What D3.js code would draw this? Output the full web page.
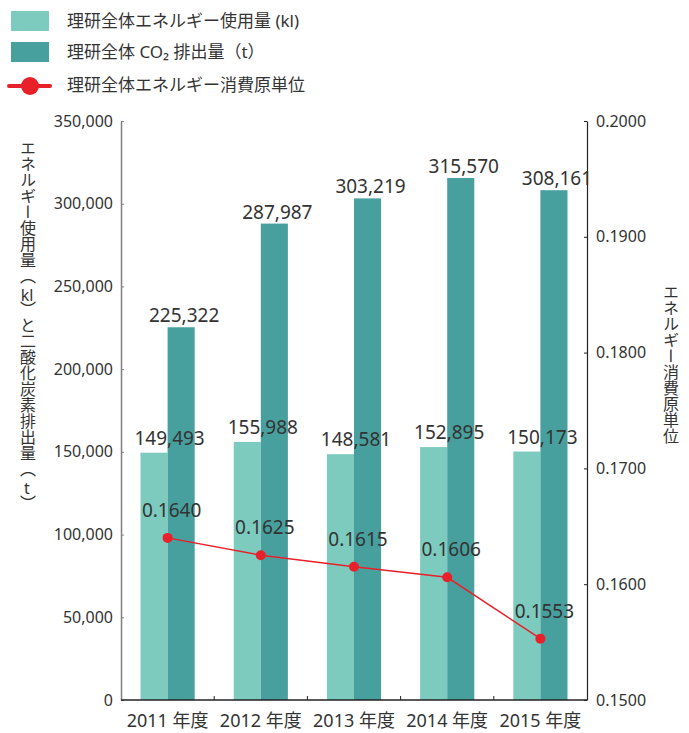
<!DOCTYPE html>
<html>
<head>
<meta charset="utf-8">
<script src="https://cdn.jsdelivr.net/npm/d3@7"></script>
<style>
  html, body { margin: 0; padding: 0; background: #fff; }
  svg { display: block; }
  text { font-family: "Noto Sans", "Noto Sans CJK JP", sans-serif; fill: #333; }
</style>
</head>
<body>
<svg id="chart" width="689" height="733"></svg>
<script>
// ---- data ----
const categories = ["2011 年度", "2012 年度", "2013 年度", "2014 年度", "2015 年度"];
const energyUse = [149493, 155988, 148581, 152895, 150173];
const co2Emission = [225322, 287987, 303219, 315570, 308161];
const energyIntensity = [0.1640, 0.1625, 0.1615, 0.1606, 0.1553];
const leftTicks = [0, 50000, 100000, 150000, 200000, 250000, 300000, 350000];
const rightTicks = [0.15, 0.16, 0.17, 0.18, 0.19, 0.20];
const seriesNames = ["energy", "co2"];
const legendLabels = ["理研全体エネルギー使用量 (kl)", "理研全体 CO₂ 排出量（t）", "理研全体エネルギー消費原単位"];
const leftTitleParts = ["エネルギー使用量（", "kl", "）と二酸化炭素排出量（", "t", "）"];
const rightTitle = "エネルギー消費原単位";

const C_LIGHT = "#7dcbbe", C_DARK = "#48a09e", C_RED = "#e8202a";

const svg = d3.select("#chart");
const L = 121, R = 587, T = 121, B = 700;

const x0 = d3.scaleBand().domain(categories).range([L, R]).padding(0);
const x1 = d3.scaleBand().domain(seriesNames).range([0, x0.bandwidth()]).paddingInner(0).paddingOuter(0.72);
const yL = d3.scaleLinear().domain([0, 350000]).range([B, T]);
const yR = d3.scaleLinear().domain([0.15, 0.20]).range([B, T]);

// bars
const groups = svg.append("g").selectAll("g").data(categories).join("g")
  .attr("transform", d => `translate(${x0(d)},0)`);
groups.append("rect")
  .attr("x", x1("energy")).attr("width", x1.bandwidth())
  .attr("y", (d, i) => yL(energyUse[i])).attr("height", (d, i) => B - yL(energyUse[i]))
  .attr("fill", C_LIGHT);
groups.append("rect")
  .attr("x", x1("co2")).attr("width", x1.bandwidth())
  .attr("y", (d, i) => yL(co2Emission[i])).attr("height", (d, i) => B - yL(co2Emission[i]))
  .attr("fill", C_DARK);

// left axis
const axL = svg.append("g").attr("transform", `translate(${L},0)`)
  .call(d3.axisLeft(yL).tickValues(leftTicks).tickFormat(d3.format(",")).tickSize(-3).tickPadding(8).tickSizeOuter(0));
axL.select(".domain").attr("stroke", "#808080").attr("stroke-width", 1.5);
axL.selectAll(".tick line").attr("stroke", "#808080");
axL.selectAll(".tick text").attr("font-size", 16).attr("fill", "#333")
  .style("font-family", '"Noto Sans", "Noto Sans CJK JP", sans-serif');

// right axis
const axR = svg.append("g").attr("transform", `translate(${R},0)`)
  .call(d3.axisRight(yR).tickValues(rightTicks).tickFormat(d3.format(".4f")).tickSize(-3).tickPadding(9).tickSizeOuter(0));
axR.select(".domain").attr("stroke", "#222").attr("stroke-width", 1.2);
axR.selectAll(".tick line").attr("stroke", "#222");
axR.selectAll(".tick text").attr("font-size", 16).attr("fill", "#333")
  .style("font-family", '"Noto Sans", "Noto Sans CJK JP", sans-serif');

// bottom axis
svg.append("line").attr("x1", L).attr("x2", R).attr("y1", B).attr("y2", B)
  .attr("stroke", "#222").attr("stroke-width", 1.5);
svg.append("g").selectAll("line").data(categories.slice(1)).join("line")
  .attr("x1", d => x0(d)).attr("x2", d => x0(d)).attr("y1", B).attr("y2", B - 4)
  .attr("stroke", "#222");
svg.append("g").selectAll("text").data(categories).join("text")
  .attr("x", d => x0(d) + x0.bandwidth() / 2).attr("y", 727)
  .attr("text-anchor", "middle").attr("font-size", 18).text(d => d);

// bar value labels
const fmt = d3.format(",");
svg.append("g").selectAll("text").data(categories).join("text")
  .attr("x", d => x0(d) + x0.bandwidth() / 2 + 2)
  .attr("y", (d, i) => yL(energyUse[i]) - 8)
  .attr("text-anchor", "middle").attr("font-size", 19).text((d, i) => fmt(energyUse[i]));
svg.append("g").selectAll("text").data(categories).join("text")
  .attr("x", d => x0(d) + x1("co2") + x1.bandwidth() / 2 + 3)
  .attr("y", (d, i) => yL(co2Emission[i]) - 5)
  .attr("text-anchor", "middle").attr("font-size", 19).text((d, i) => fmt(co2Emission[i]));

// line
const cx = d => x0(d) + x0.bandwidth() / 2;
const line = d3.line().x((d, i) => cx(categories[i])).y(d => yR(d));
svg.append("path").datum(energyIntensity).attr("d", line)
  .attr("fill", "none").attr("stroke", C_RED).attr("stroke-width", 1.5);
svg.append("g").selectAll("circle").data(energyIntensity).join("circle")
  .attr("cx", (d, i) => cx(categories[i])).attr("cy", d => yR(d)).attr("r", 5)
  .attr("fill", C_RED);
svg.append("g").selectAll("text").data(energyIntensity).join("text")
  .attr("x", (d, i) => cx(categories[i]) + 4).attr("y", d => yR(d) - 21)
  .attr("text-anchor", "middle").attr("font-size", 19).text(d => d3.format(".4f")(d));

// legend
const lg = svg.append("g");
lg.append("rect").attr("x", 11).attr("y", 11).attr("width", 38).attr("height", 20).attr("fill", C_LIGHT);
lg.append("rect").attr("x", 11).attr("y", 42).attr("width", 38).attr("height", 20).attr("fill", C_DARK);
lg.append("line").attr("x1", 9).attr("x2", 50).attr("y1", 86).attr("y2", 86)
  .attr("stroke", C_RED).attr("stroke-width", 4).attr("stroke-linecap", "round");
lg.append("circle").attr("cx", 30).attr("cy", 86).attr("r", 9).attr("fill", C_RED);
lg.selectAll("text.lg").data(legendLabels).join("text").attr("class", "lg")
  .attr("x", 67).attr("y", (d, i) => [21, 52, 85][i]).attr("dy", "0.35em")
  .attr("font-size", 17).text(d => d);

// vertical titles
function verticalTitle(parts, xc, yStart, size) {
  const g = svg.append("g");
  let y = yStart;
  parts.forEach(p => {
    const isLatin = /^[A-Za-z]+$/.test(p);
    if (isLatin) {
      const t = g.append("text").attr("x", xc).attr("y", y).attr("text-anchor", "middle")
        .attr("dominant-baseline", "text-before-edge").attr("font-size", size).text(p);
      const bb = t.node().getBBox();
      y += bb.height * 0.78;
    } else {
      const t = g.append("text").attr("x", xc).attr("y", y)
        .style("writing-mode", "vertical-rl").style("text-orientation", "mixed")
        .attr("font-size", size).text(p);
      const bb = t.node().getBBox();
      y += bb.height;
    }
  });
}
verticalTitle(leftTitleParts, 27, 140, 16);
verticalTitle([rightTitle], 670, 284, 16);
</script>
</body>
</html>
